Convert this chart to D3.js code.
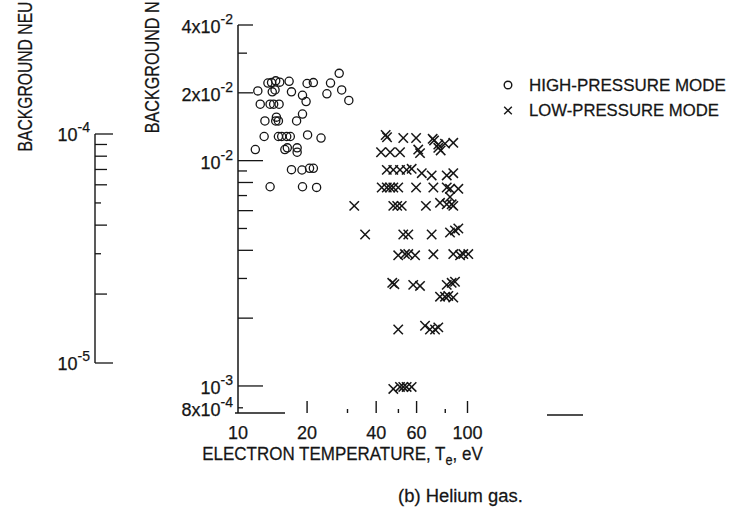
<!DOCTYPE html>
<html><head><meta charset="utf-8">
<script src="https://cdn.jsdelivr.net/npm/d3@7"></script>
<style>
html,body{margin:0;padding:0;background:#fff;}
svg{display:block;}
text{font-family:"Liberation Sans",Arial,Helvetica,sans-serif;fill:#151515;stroke:#151515;stroke-width:0.25px;}
</style></head><body>
<svg id="chart" width="734" height="507"></svg>
<script>
// High-pressure mode: electron temperature (eV) and background density
const highTe = [27.6,13.5,14.0,14.6,15.2,16.7,20.0,21.3,25.3,12.2,14.1,14.5,17.1,19.1,24.4,28.3,30.4,19.8,
  12.5,13.8,14.3,15.1,19.1,14.7,13.1,14.6,15.0,18.0,13.0,15.0,15.5,16.3,16.9,20.1,23.0,11.9,16.0,16.4,
  18.1,18.1,17.1,19.0,20.5,21.3,13.8,19.1,22.0];
const highDensity = [0.0244,0.0221,0.0222,0.0226,0.0223,0.0225,0.0220,0.0222,0.0221,0.0204,0.0202,0.0206,
  0.0202,0.0195,0.0198,0.0206,0.0185,0.0183,0.0178,0.0178,0.0178,0.0178,0.0161,0.0156,0.0150,0.0150,
  0.0150,0.0150,0.0128,0.0128,0.0128,0.0128,0.0128,0.0130,0.0126,0.0112,0.0112,0.0114,0.0114,0.0109,
  0.00912,0.00909,0.00925,0.00925,0.00766,0.00766,0.00761];

// Low-pressure mode
const lowTe = [44.0,44.6,52.5,59.7,70.5,71.5,74.6,79.8,86.7,
  42.0,46.0,50.8,61.0,62.1,74.6,76.4,
  44.5,47.5,50.8,54.3,57.1,63.2,69.8,81.2,86.7,
  42.3,44.5,46.0,47.5,49.9,59.7,71.0,81.2,83.9,91.2,
  83.9,32.1,47.5,49.4,51.7,65.9,75.9,81.2,85.3,86.7,
  35.8,52.5,55.2,69.8,83.9,88.2,91.2,
  49.9,53.4,55.2,59.1,71.0,86.7,92.8,95.9,100.8,
  47.0,48.0,58.0,62.1,81.2,85.3,88.2,
  75.9,79.8,82.5,86.7,
  49.9,65.3,68.6,72.2,74.6,
  47.5,50.8,52.5,54.3,57.1];
const lowDensity = [0.0130,0.0127,0.0126,0.0126,0.0125,0.0123,0.0118,0.0119,0.0120,
  0.0109,0.0109,0.0109,0.0112,0.0108,0.0114,0.0111,
  0.0091,0.0091,0.0091,0.0091,0.0092,0.0088,0.0086,0.0086,0.0088,
  0.0076,0.0076,0.0076,0.0076,0.0076,0.0076,0.0076,0.0076,0.0075,0.0075,
  0.0069,0.0063,0.0063,0.0063,0.0063,0.0063,0.0065,0.0064,0.0064,0.0063,
  0.0047,0.0047,0.0047,0.0047,0.0048,0.0049,0.0050,
  0.0038,0.00385,0.00385,0.0038,0.00384,0.00385,0.0038,0.00385,0.00385,
  0.00287,0.00283,0.00281,0.00278,0.00281,0.00287,0.0029,
  0.00249,0.00249,0.00251,0.00247,
  0.00178,0.00185,0.00178,0.00178,0.00182,
  0.00097,0.00099,0.00099,0.00099,0.00099];

// Axis ticks
const xTicks = [20,30,40,50,60,80,100];
const xMinorTicks = [30,50,80];
const xTickLabels = [[10,"10"],[20,"20"],[40,"40"],[60,"60"],[100,"100"]];
const yTicks = [4e-2,3e-2,2e-2,1e-2,9e-3,8e-3,7e-3,6e-3,5e-3,4e-3,3e-3,2e-3,1e-3,8e-4];
const yTickLabels = [[4e-2,"4x10","-2"],[2e-2,"2x10","-2"],[1e-2,"10","-2"],[1e-3,"10","-3"],[8e-4,"8x10","-4"]];
// Neighbouring panel's density axis
const leftTicks = [1e-4,9e-5,8e-5,7e-5,6e-5,5e-5,4e-5,3e-5,2e-5,1e-5];
const leftTickLabels = [[1e-4,"10","-4"],[1e-5,"10","-5"]];
const legendLabels = ["HIGH-PRESSURE MODE","LOW-PRESSURE MODE"];

const svg = d3.select("#chart");
const ink = "#151515";

const x = d3.scaleLog().domain([10,100]).range([238,467.5]);
const y = d3.scaleLog().domain([8e-4,4e-2]).range([407.8,25]);
const yLeft = d3.scaleLog().domain([1e-5,1e-4]).range([363,134]);
const axisY = 413;

const mantissa = v => Math.round(v / Math.pow(10, Math.floor(Math.log10(v) + 1e-9)));

// Text squeezed or stretched horizontally to a given run length
function fitText(parent, o) {
  const g = parent.append("g");
  const t = g.append("text").attr("text-anchor", o.anchor || "start").style("font-size", o.size + "px");
  o.build(t);
  const w = t.node().getBBox().width;
  const s = o.width ? o.width / w : 1;
  g.attr("transform", `translate(${o.x},${o.y})` + (o.rotate ? ` rotate(${o.rotate})` : "") + ` scale(${s},1)`);
  return g;
}
function expLabel(parent, xPos, yPos, base, sup) {
  const t = parent.append("text").attr("x", xPos).attr("y", yPos).attr("text-anchor", "end")
    .style("font-size", "18px");
  t.append("tspan").text(base);
  t.append("tspan").attr("dy", -9).style("font-size", "14px").text(sup);
}

// ----- neighbouring panel axis fragment -----
const gl = svg.append("g");
gl.append("line").attr("x1",95).attr("x2",95).attr("y1",yLeft(1e-4)).attr("y2",yLeft(1e-5))
  .attr("stroke",ink).attr("stroke-width",1.4);
gl.selectAll("line.t").data(leftTicks).join("line").attr("class","t")
  .attr("x1",95).attr("y1",d=>yLeft(d)).attr("y2",d=>yLeft(d))
  .attr("x2",d=>{const m=mantissa(d); return 95 + (m===1?18:(m===5||m===3)?6:12);})
  .attr("stroke",ink).attr("stroke-width",1.3);
leftTickLabels.forEach(([v,base,sup]) => expLabel(gl, 90, yLeft(v)+7, base, sup));
fitText(gl, {x:31.7, y:151.5, rotate:-90, size:20, width:150,
  build: t => t.text("BACKGROUND NEU")});

// ----- main panel -----
const g = svg.append("g");
fitText(g, {x:159.3, y:133.3, rotate:-90, size:20, width:132,
  build: t => t.text("BACKGROUND N")});

// y axis
g.append("line").attr("x1",x(10)).attr("x2",x(10)).attr("y1",y(4e-2)).attr("y2",axisY)
  .attr("stroke",ink).attr("stroke-width",1.5);
g.selectAll("line.yt").data(yTicks).join("line").attr("class","yt")
  .attr("x1",x(10)).attr("y1",d=>y(d)).attr("y2",d=>y(d))
  .attr("x2",d=>{const m=mantissa(d); let L = m===1?25:(m%2===0?15:9); if(d===8e-4) L=5; return x(10)+L;})
  .attr("stroke",ink).attr("stroke-width",1.3);
yTickLabels.forEach(([v,base,sup]) => expLabel(g, 233, y(v)+8, base, sup));

// x axis: short baseline stub plus upright ticks
g.append("line").attr("x1",x(10)-3).attr("x2",285).attr("y1",axisY).attr("y2",axisY)
  .attr("stroke",ink).attr("stroke-width",1.3);
g.append("line").attr("x1",547).attr("x2",583).attr("y1",axisY+2).attr("y2",axisY+2)
  .attr("stroke",ink).attr("stroke-width",1.3);
g.selectAll("line.xt").data(xTicks).join("line").attr("class","xt")
  .attr("x1",d=>x(d)).attr("x2",d=>x(d)).attr("y1",axisY)
  .attr("y2",d=>(xMinorTicks.includes(d)?axisY-4:axisY-12))
  .attr("stroke",ink).attr("stroke-width",1.4);
g.selectAll("text.xl").data(xTickLabels).join("text").attr("class","xl")
  .attr("x",d=>x(d[0])).attr("y",439.3).attr("text-anchor","middle")
  .style("font-size","18px").text(d=>d[1]);

fitText(g, {x:202.3, y:459.5, size:18.6, width:281, build: t => {
  t.append("tspan").text("ELECTRON  TEMPERATURE,  T");
  t.append("tspan").attr("dy",5).style("font-size","14px").text("e");
  t.append("tspan").attr("dy",-5).text(",  eV");
}});

// data marks
const highPts = highTe.map((t,i)=>[t,highDensity[i]]);
const lowPts = lowTe.map((t,i)=>[t,lowDensity[i]]);

g.selectAll("circle.hp").data(highPts).join("circle").attr("class","hp")
  .attr("cx",d=>x(d[0])).attr("cy",d=>y(d[1])).attr("r",4.1)
  .attr("fill","none").attr("stroke",ink).attr("stroke-width",1.3);

const cs = 4.7;
const cross = g.selectAll("g.lp").data(lowPts).join("g").attr("class","lp")
  .attr("transform",d=>`translate(${x(d[0])},${y(d[1])})`);
cross.append("line").attr("x1",-cs).attr("y1",-cs).attr("x2",cs).attr("y2",cs)
  .attr("stroke",ink).attr("stroke-width",1.5);
cross.append("line").attr("x1",-cs).attr("y1",cs).attr("x2",cs).attr("y2",-cs)
  .attr("stroke",ink).attr("stroke-width",1.5);

// legend
const lg = g.append("g");
lg.append("circle").attr("cx",508).attr("cy",85).attr("r",3.8)
  .attr("fill","none").attr("stroke",ink).attr("stroke-width",1.4);
[[-3.8,-3.8,3.8,3.8],[-3.8,3.8,3.8,-3.8]].forEach(([a,b,c,dd])=>{
  lg.append("line").attr("x1",508+a).attr("y1",110.5+b).attr("x2",508+c).attr("y2",110.5+dd)
    .attr("stroke",ink).attr("stroke-width",1.4);
});
fitText(lg, {x:529, y:90.5, size:16, width:197, build: t => t.text(legendLabels[0])});
fitText(lg, {x:529, y:115.5, size:16, width:190, build: t => t.text(legendLabels[1])});

// panel caption
fitText(g, {x:398, y:502, size:18.5, width:125, build: t => t.text("(b) Helium gas.")});
</script>
</body></html>
